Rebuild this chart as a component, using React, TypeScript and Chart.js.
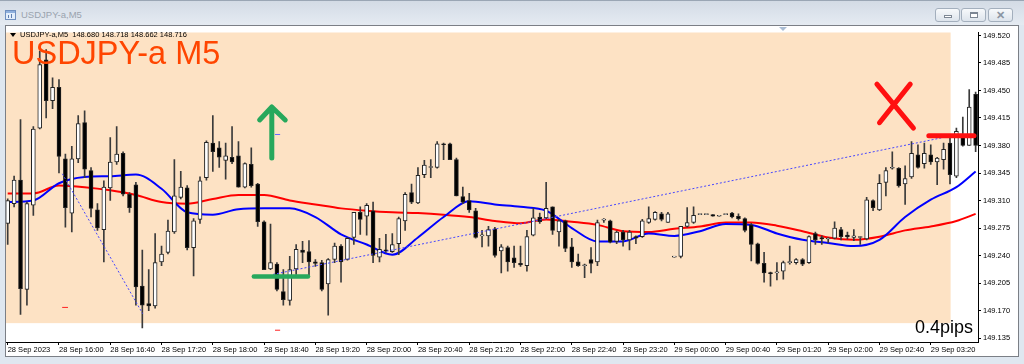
import React, { useEffect, useRef } from 'react';
import { Chart, registerables } from 'chart.js';

Chart.register(...registerables);

// ---- Data (USDJPY-a, M5, 28 Sep 2023 15:20 -> 29 Sep 03:55) ----
const open = [
  149.281, 149.306, 149.336, 149.197, 149.304, 149.402, 149.489, 149.437, 149.454, 149.363,
  149.294, 149.363, 149.409, 149.348, 149.298, 149.273, 149.326, 149.359, 149.370, 149.318,
  149.330, 149.201, 149.179, 149.176, 149.232, 149.244, 149.270, 149.314, 149.326, 149.250,
  149.286, 149.339, 149.383, 149.377, 149.361, 149.365, 149.367, 149.327, 149.356, 149.331,
  149.283, 149.223, 149.229, 149.194, 149.183, 149.223, 149.247, 149.245, 149.232, 149.231,
  149.204, 149.235, 149.252, 149.235, 149.263, 149.295, 149.290, 149.297, 149.238, 149.247,
  149.245, 149.255, 149.284, 149.320, 149.307, 149.343, 149.352, 149.352, 149.382, 149.382,
  149.362, 149.315, 149.310, 149.297, 149.265, 149.265, 149.274, 149.246, 149.250, 149.237,
  149.230, 149.227, 149.266, 149.289, 149.288, 149.302, 149.270, 149.284, 149.251, 149.232,
  149.227, 149.235, 149.232, 149.285, 149.284, 149.258, 149.270, 149.260, 149.264, 149.264,
  149.282, 149.286, 149.293, 149.282, 149.238, 149.239, 149.277, 149.282, 149.292, 149.292,
  149.292, 149.290, 149.292, 149.294, 149.290, 149.287, 149.279, 149.255, 149.230, 149.218,
  149.218, 149.220, 149.231, 149.231, 149.235, 149.231, 149.268, 149.263, 149.261, 149.262,
  149.273, 149.266, 149.263, 149.263, 149.261, 149.310, 149.298, 149.333, 149.351, 149.351,
  149.331, 149.340, 149.368, 149.357, 149.368, 149.359, 149.362, 149.383, 149.341, 149.393,
  149.380, 149.445,
];
const high = [
  149.312, 149.341, 149.413, 149.308, 149.404, 149.500, 149.502, 149.466, 149.464, 149.369,
  149.379, 149.418, 149.424, 149.352, 149.306, 149.335, 149.390, 149.404, 149.372, 149.320,
  149.333, 149.247, 149.222, 149.268, 149.252, 149.285, 149.362, 149.347, 149.329, 149.287,
  149.340, 149.386, 149.418, 149.385, 149.383, 149.404, 149.385, 149.358, 149.377, 149.332,
  149.284, 149.280, 149.231, 149.222, 149.239, 149.254, 149.258, 149.259, 149.235, 149.234,
  149.236, 149.256, 149.254, 149.263, 149.295, 149.302, 149.306, 149.308, 149.262, 149.267,
  149.268, 149.289, 149.320, 149.331, 149.352, 149.361, 149.362, 149.385, 149.383, 149.383,
  149.364, 149.327, 149.319, 149.300, 149.272, 149.277, 149.276, 149.254, 149.252, 149.252,
  149.252, 149.272, 149.300, 149.294, 149.333, 149.302, 149.286, 149.285, 149.262, 149.242,
  149.229, 149.250, 149.285, 149.287, 149.285, 149.271, 149.272, 149.272, 149.265, 149.286,
  149.302, 149.296, 149.295, 149.295, 149.238, 149.277, 149.301, 149.302, 149.292, 149.292,
  149.292, 149.290, 149.292, 149.295, 149.293, 149.288, 149.281, 149.256, 149.244, 149.219,
  149.231, 149.233, 149.252, 149.236, 149.236, 149.265, 149.270, 149.265, 149.263, 149.283,
  149.276, 149.270, 149.273, 149.264, 149.314, 149.311, 149.343, 149.352, 149.372, 149.352,
  149.354, 149.385, 149.381, 149.383, 149.381, 149.365, 149.383, 149.390, 149.402, 149.416,
  149.451, 149.448,
];
const low = [
  149.254, 149.302, 149.165, 149.177, 149.291, 149.401, 149.415, 149.427, 149.345, 149.276,
  149.270, 149.358, 149.339, 149.289, 149.272, 149.232, 149.310, 149.356, 149.316, 149.295,
  149.177, 149.148, 149.170, 149.173, 149.227, 149.242, 149.268, 149.312, 149.247, 149.214,
  149.281, 149.336, 149.347, 149.352, 149.337, 149.357, 149.327, 149.326, 149.327, 149.277,
  149.222, 149.222, 149.195, 149.177, 149.177, 149.216, 149.231, 149.213, 149.226, 149.195,
  149.164, 149.231, 149.206, 149.234, 149.254, 149.267, 149.266, 149.231, 149.232, 149.244,
  149.244, 149.241, 149.272, 149.306, 149.306, 149.339, 149.339, 149.351, 149.362, 149.362,
  149.316, 149.306, 149.295, 149.262, 149.251, 149.252, 149.238, 149.218, 149.220, 149.225,
  149.226, 149.220, 149.265, 149.281, 149.287, 149.267, 149.252, 149.245, 149.225, 149.226,
  149.212, 149.218, 149.227, 149.282, 149.256, 149.255, 149.252, 149.247, 149.255, 149.263,
  149.281, 149.285, 149.284, 149.282, 149.238, 149.237, 149.276, 149.281, 149.292, 149.292,
  149.290, 149.290, 149.292, 149.288, 149.285, 149.270, 149.233, 149.229, 149.206, 149.201,
  149.209, 149.210, 149.229, 149.229, 149.227, 149.230, 149.254, 149.254, 149.256, 149.261,
  149.260, 149.261, 149.259, 149.254, 149.260, 149.297, 149.297, 149.316, 149.350, 149.327,
  149.305, 149.338, 149.351, 149.351, 149.356, 149.330, 149.350, 149.331, 149.339, 149.379,
  149.380, 149.372,
];
const close = [
  149.310, 149.336, 149.198, 149.306, 149.401, 149.483, 149.437, 149.454, 149.366, 149.301,
  149.363, 149.408, 149.350, 149.300, 149.275, 149.327, 149.359, 149.369, 149.318, 149.301,
  149.200, 149.177, 149.176, 149.231, 149.242, 149.271, 149.316, 149.327, 149.250, 149.284,
  149.335, 149.384, 149.372, 149.365, 149.367, 149.359, 149.327, 149.357, 149.329, 149.283,
  149.222, 149.231, 149.197, 149.184, 149.222, 149.248, 149.244, 149.232, 149.230, 149.197,
  149.235, 149.252, 149.232, 149.262, 149.295, 149.286, 149.304, 149.240, 149.248, 149.246,
  149.254, 149.287, 149.318, 149.308, 149.342, 149.355, 149.352, 149.382, 149.381, 149.362,
  149.316, 149.308, 149.298, 149.263, 149.265, 149.273, 149.240, 149.251, 149.232, 149.231,
  149.228, 149.264, 149.288, 149.283, 149.300, 149.272, 149.284, 149.249, 149.232, 149.227,
  149.228, 149.230, 149.282, 149.285, 149.257, 149.270, 149.260, 149.270, 149.262, 149.284,
  149.287, 149.295, 149.286, 149.293, 149.238, 149.277, 149.282, 149.291, 149.292, 149.292,
  149.290, 149.290, 149.292, 149.289, 149.287, 149.272, 149.254, 149.230, 149.218, 149.217,
  149.219, 149.231, 149.232, 149.235, 149.229, 149.264, 149.260, 149.261, 149.261, 149.275,
  149.264, 149.264, 149.265, 149.263, 149.311, 149.301, 149.332, 149.348, 149.352, 149.329,
  149.338, 149.370, 149.352, 149.370, 149.359, 149.364, 149.375, 149.343, 149.398, 149.380,
  149.429, 149.380,
];

// Moving averages (bar index -> price)
const maIdx = [0, 4, 8, 12, 16, 20, 24, 28, 32, 36, 40, 44, 48, 52, 56, 60, 64, 68, 72, 76,
  80, 84, 88, 92, 96, 100, 104, 108, 112, 116, 120, 124, 128, 132, 136, 140, 144, 148, 151];
const maFast = [149.308, 149.310, 149.332, 149.340, 149.341, 149.343, 149.325, 149.295, 149.292, 149.299,
  149.300, 149.300, 149.289, 149.267, 149.254, 149.241, 149.263, 149.289, 149.309, 149.305,
  149.302, 149.297, 149.275, 149.258, 149.258, 149.268, 149.265, 149.271, 149.280, 149.279,
  149.268, 149.260, 149.256, 149.252, 149.260, 149.289, 149.311, 149.327, 149.347];
const maSlow = [149.319, 149.319, 149.329, 149.327, 149.323, 149.317, 149.308, 149.306, 149.312, 149.317,
  149.317, 149.310, 149.305, 149.300, 149.297, 149.295, 149.294, 149.292, 149.289, 149.284,
  149.281, 149.286, 149.283, 149.279, 149.271, 149.270, 149.274, 149.277, 149.282, 149.282,
  149.278, 149.271, 149.263, 149.260, 149.264, 149.272, 149.277, 149.284, 149.293];

const yTicks = [149.135, 149.170, 149.205, 149.240, 149.275, 149.310, 149.345, 149.380, 149.415, 149.450, 149.485, 149.520];
const xTickIdx = [0, 8, 16, 24, 32, 40, 48, 56, 64, 72, 80, 88, 96, 104, 112, 120, 128, 136, 144];
const xTickLabels = ['28 Sep 2023', '28 Sep 16:00', '28 Sep 16:40', '28 Sep 17:20', '28 Sep 18:00',
  '28 Sep 18:40', '28 Sep 19:20', '28 Sep 20:00', '28 Sep 20:40', '28 Sep 21:20', '28 Sep 22:00',
  '28 Sep 22:40', '28 Sep 23:20', '29 Sep 00:00', '29 Sep 00:40', '29 Sep 01:20', '29 Sep 02:00',
  '29 Sep 02:40', '29 Sep 03:20'];

// Chart objects anchored in (bar index, price)
const zoneRect = [147.1, 149.154]; // right edge, lower price
const trendLines = [[8.52, 149.344, 21.06, 149.166], [41.4, 149.216, 148.25, 149.394]];
const arrowUp = [41.2, 149.364, 149.429, 39.3, 43.3, 149.4125]; // x, yBottom, yTop, wingL, wingR, wingY
const greenLevel = [38.4, 46.85, 149.2134];
const redLevel = [143.7, 150.75, 149.3925];
const redCross = [[135.6, 149.458, 141.3, 149.402], [140.8, 149.458, 136.0, 149.409]];
const redDashes = [[8.5, 9.4, 149.174], [41.7, 42.5, 149.145]];
const blueDash = [41.7, 42.5, 149.394];

const FONT = "'Liberation Sans', Arial, sans-serif";

const objectsPlugin = {
  id: 'mtObjects',
  beforeDatasetsDraw(chart: any) {
    const { ctx, chartArea: a, scales } = chart;
    const x = scales.x, y = scales.y;
    ctx.save();
    ctx.fillStyle = '#fde2c4';
    const rx = x.getPixelForValue(zoneRect[0]);
    const ry = y.getPixelForValue(zoneRect[1]);
    ctx.fillRect(a.left, a.top, rx - a.left, ry - a.top);
    ctx.restore();
  },
  afterDatasetsDraw(chart: any) {
    const { ctx, chartArea: a, scales } = chart;
    const px = (v: number) => scales.x.getPixelForValue(v);
    const py = (v: number) => scales.y.getPixelForValue(v);
    ctx.save();
    ctx.beginPath();
    ctx.rect(a.left, a.top, a.right - a.left, a.bottom - a.top);
    ctx.clip();
    // dotted trend lines
    ctx.setLineDash([2, 2]);
    ctx.strokeStyle = '#4747ff';
    ctx.lineWidth = 1;
    trendLines.forEach(([x1, y1, x2, y2]) => {
      ctx.beginPath();
      ctx.moveTo(px(x1), py(y1));
      ctx.lineTo(px(x2), py(y2));
      ctx.stroke();
    });
    ctx.setLineDash([]);
    // small marks
    ctx.strokeStyle = '#ff2020';
    redDashes.forEach(([x1, x2, yv]) => {
      ctx.beginPath(); ctx.moveTo(px(x1), py(yv)); ctx.lineTo(px(x2), py(yv)); ctx.stroke();
    });
    ctx.strokeStyle = '#6a6aff';
    ctx.beginPath(); ctx.moveTo(px(blueDash[0]), py(blueDash[2])); ctx.lineTo(px(blueDash[1]), py(blueDash[2])); ctx.stroke();
    // green arrow
    ctx.lineCap = 'round';
    ctx.lineJoin = 'round';
    ctx.strokeStyle = '#27a85c';
    ctx.lineWidth = 5;
    const [ax, ayb, ayt, wl, wr, wy] = arrowUp;
    ctx.beginPath();
    ctx.moveTo(px(ax), py(ayb)); ctx.lineTo(px(ax), py(ayt));
    ctx.moveTo(px(wl), py(wy)); ctx.lineTo(px(ax), py(ayt)); ctx.lineTo(px(wr), py(wy));
    ctx.stroke();
    ctx.lineWidth = 4.5;
    ctx.beginPath();
    ctx.moveTo(px(greenLevel[0]), py(greenLevel[2])); ctx.lineTo(px(greenLevel[1]), py(greenLevel[2]));
    ctx.stroke();
    // red cross and level
    ctx.strokeStyle = '#ff1010';
    ctx.lineWidth = 5;
    redCross.forEach(([x1, y1, x2, y2]) => {
      ctx.beginPath(); ctx.moveTo(px(x1), py(y1)); ctx.lineTo(px(x2), py(y2)); ctx.stroke();
    });
    ctx.beginPath();
    ctx.moveTo(px(redLevel[0]), py(redLevel[2])); ctx.lineTo(px(redLevel[1]), py(redLevel[2]));
    ctx.stroke();
    ctx.restore();
  },
};

function Btn({ left, children }: { left: number; children?: React.ReactNode }) {
  return (
    <div style={{
      position: 'absolute', left, top: 8, width: 25, height: 14, boxSizing: 'border-box',
      border: '1px solid #a3afbd', borderRadius: 3,
      background: 'linear-gradient(#f7f9fb, #dde4ec)',
    }}>{children}</div>
  );
}

export default function App() {
  const ref = useRef<HTMLCanvasElement>(null);

  useEffect(() => {
    const idx = open.map((_, i) => i);
    const chart = new Chart(ref.current as HTMLCanvasElement, {
      type: 'bar',
      data: {
        datasets: [
          {
            type: 'line', label: 'MA slow',
            data: maIdx.map((xv, k) => ({ x: xv, y: maSlow[k] })),
            borderColor: '#ff0000', borderWidth: 2, pointRadius: 0,
            cubicInterpolationMode: 'monotone', order: 5,
          } as any,
          {
            type: 'line', label: 'MA fast',
            data: maIdx.map((xv, k) => ({ x: xv, y: maFast[k] })),
            borderColor: '#0000ff', borderWidth: 2, pointRadius: 0,
            cubicInterpolationMode: 'monotone', order: 4,
          } as any,
          {
            type: 'bar', label: 'wick',
            data: idx.map((i) => ({ x: i, y: [low[i], high[i]] })),
            backgroundColor: '#3a3a3a', barThickness: 1, grouped: false, order: 3,
          } as any,
          {
            type: 'bar', label: 'body',
            data: idx.map((i) => ({ x: i, y: [Math.min(open[i], close[i]), Math.max(open[i], close[i])] })),
            backgroundColor: idx.map((i) => (close[i] >= open[i] ? '#ffffff' : '#000000')),
            borderColor: '#222222', borderWidth: 1, borderSkipped: false,
            barThickness: 4, minBarLength: 1, grouped: false, order: 2,
          } as any,
        ],
      },
      options: {
        responsive: false,
        animation: false,
        events: [],
        layout: { padding: { left: 0, top: 1, right: 0, bottom: 0 } },
        plugins: { legend: { display: false }, tooltip: { enabled: false } },
        font: { family: FONT },
        scales: {
          x: {
            type: 'linear', min: -0.265, max: 151.37, offset: false,
            afterBuildTicks: (s: any) => { s.ticks = xTickIdx.map((v) => ({ value: v })); },
            afterFit: (s: any) => { s.height = 14; },
            grid: { drawOnChartArea: false, drawTicks: true, tickLength: 3, color: '#000', offset: false },
            border: { display: true, color: '#000', width: 1 },
            ticks: {
              autoSkip: false, maxRotation: 0, minRotation: 0, align: 'start', padding: 0,
              color: '#000', font: { size: 7.5, family: FONT },
              callback: (_v: any, i: number) => xTickLabels[i],
            },
          },
          y: {
            type: 'linear', position: 'right', min: 149.13, max: 149.52375,
            afterBuildTicks: (s: any) => { s.ticks = yTicks.map((v) => ({ value: v })); },
            afterFit: (s: any) => { s.width = 38; },
            grid: { drawOnChartArea: false, drawTicks: true, tickLength: 3, color: '#000' },
            border: { display: true, color: '#000', width: 1 },
            ticks: {
              padding: 2, color: '#000', font: { size: 7.5, family: FONT },
              callback: (v: any) => Number(v).toFixed(3),
            },
          },
        },
      } as any,
      plugins: [objectsPlugin],
    });
    return () => chart.destroy();
  }, []);

  return (
    <div style={{
      position: 'fixed', left: 0, top: 0, width: 1024, height: 364, overflow: 'hidden',
      background: '#dfe7f0', fontFamily: FONT,
    }}>
      {/* title bar */}
      <div style={{ position: 'absolute', left: 0, top: 0, width: 1024, height: 24, background: 'linear-gradient(#d3dbe5, #e5ebf2)', borderTop: '1px solid #9aa6b4' }} />
      <div style={{ position: 'absolute', left: 5, top: 10, width: 11, height: 10, boxSizing: 'border-box', border: '1px solid #6f8fbf', background: '#e3eefb' }}>
        <div style={{ position: 'absolute', left: 0, top: 0, width: 9, height: 2, background: '#8fb0dd' }} />
        <div style={{ position: 'absolute', left: 2, top: 4, width: 1, height: 3, background: '#5f7fb0' }} />
        <div style={{ position: 'absolute', left: 5, top: 3, width: 1, height: 4, background: '#5f7fb0' }} />
      </div>
      <div style={{ position: 'absolute', left: 21, top: 9, fontSize: 9.5, lineHeight: '12px', color: '#9aa3ae', whiteSpace: 'nowrap' }}>USDJPY-a,M5</div>
      <Btn left={935}>
        <div style={{ position: 'absolute', left: 8, top: 6, width: 8, height: 3, boxSizing: 'border-box', border: '1px solid #7d8794', background: '#fff' }} />
      </Btn>
      <Btn left={961}>
        <div style={{ position: 'absolute', left: 8, top: 3, width: 8, height: 6, boxSizing: 'border-box', border: '1px solid #7d8794', borderTopWidth: 2, background: '#fff' }} />
      </Btn>
      <Btn left={988}>
        <div style={{ position: 'absolute', left: 0, top: -1, width: 23, textAlign: 'center', fontSize: 11, lineHeight: '14px', color: '#8a95a3', fontWeight: 'bold' }}>✕</div>
      </Btn>
      {/* chart panel */}
      <div style={{ position: 'absolute', left: 5, top: 25, width: 1014, height: 332, boxSizing: 'border-box', border: '1px solid #7b7f86', background: '#ffffff' }} />
      <canvas ref={ref} width={1010} height={330} style={{ position: 'absolute', left: 6, top: 26, width: 1010, height: 330 }} />
      {/* chart shift marker */}
      <div style={{ position: 'absolute', left: 779, top: 27, width: 0, height: 0, borderLeft: '4px solid transparent', borderRight: '4px solid transparent', borderTop: '4px solid #a9bcd3' }} />
      {/* header line */}
      <div style={{ position: 'absolute', left: 10, top: 33, width: 0, height: 0, borderLeft: '3px solid transparent', borderRight: '3px solid transparent', borderTop: '4px solid #000' }} />
      <div style={{ position: 'absolute', left: 20, top: 30, fontSize: 7.5, lineHeight: '10px', color: '#000', whiteSpace: 'pre' }}>USDJPY-a,M5  148.680 148.718 148.662 148.716</div>
      {/* big label */}
      <div style={{ position: 'absolute', left: 12, top: 36.5, fontSize: 32.5, lineHeight: '32.5px', color: '#ff4500', whiteSpace: 'nowrap' }}>USDJPY-a M5</div>
      {/* spread label */}
      <div style={{ position: 'absolute', right: 51, top: 318.3, fontSize: 18, lineHeight: '18px', color: '#000', whiteSpace: 'nowrap' }}>0.4pips</div>
    </div>
  );
}
